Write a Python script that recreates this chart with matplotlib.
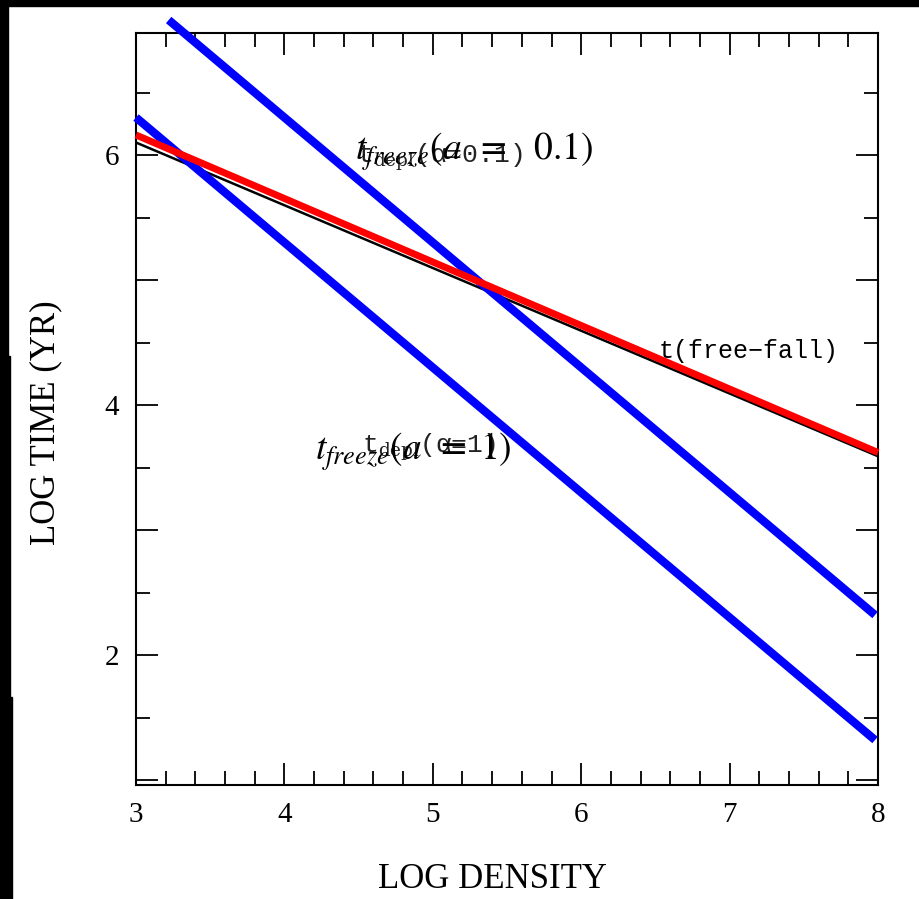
import matplotlib
matplotlib.use("Agg")
import matplotlib.pyplot as plt
from matplotlib.patches import Rectangle
from matplotlib.ticker import MultipleLocator, FixedLocator, FuncFormatter

# ---- data (log density, log time) ----
freefall_x = [3.0, 8.0]
freefall_y = [6.16, 3.62]          # red overlay line
scan_x = [3.0, 8.0]
scan_y = [6.10, 3.59]              # original scanned free-fall curve
freeze01_x = [3.22, 7.98]
freeze01_y = [7.08, 2.32]          # t_freeze(a=0.1)
freeze1_x = [3.0, 7.98]
freeze1_y = [6.30, 1.32]           # t_freeze(a=1)

x_ticks = [3, 4, 5, 6, 7, 8]
y_labels = [2, 4, 6]

W, H = 919, 899
fig = plt.figure(figsize=(W / 100, H / 100), dpi=100, facecolor="white")

xl, xr = 136, 878
yb, yt = 785, 32.5
ax = fig.add_axes([xl / W, 1 - yb / H, (xr - xl) / W, (yb - yt) / H])
ax.set_xlim(3.0, 8.0)
ax.set_ylim(0.96, 6.98)

mono = ["Liberation Mono", "DejaVu Sans Mono"]
serif = ["Liberation Serif", "DejaVu Serif"]

ax.plot(scan_x, scan_y, color="black", lw=1.8, zorder=2)
ax.plot(freeze01_x, freeze01_y, color="#0000ff", lw=6, zorder=3, clip_on=False,
        solid_capstyle="butt")
ax.plot(freeze1_x, freeze1_y, color="#0000ff", lw=6, zorder=3, clip_on=False,
        solid_capstyle="butt")
ax.plot(freefall_x, freefall_y, color="#ff0000", lw=5, zorder=4, clip_on=False,
        solid_capstyle="butt")

# scanned labels
ax.text(4.49, 5.94, r"t$_{\mathrm{depl}}$(α=0.1)", family=mono, fontsize=19,
        math_fontfamily="dejavuserif", color="#222222", zorder=5)
ax.text(4.52, 3.62, r"t$_{\mathrm{depl}}$(α=1)", family=mono, fontsize=19,
        math_fontfamily="dejavuserif", color="#222222", zorder=5)
ax.text(6.52, 4.38, "t(free\u2212fall)", family=mono, fontsize=18,
        color="black", zorder=5)

# overlay labels
ax.text(4.476, 5.96, r"$t_{freeze}(a\ \,=\ \ \,0.1)$", fontsize=27,
        math_fontfamily="stix", color="black", zorder=6)
ax.text(4.206, 3.56, r"$t_{freeze}(a\ \,=\ 1)$", fontsize=27,
        math_fontfamily="stix", color="black", zorder=6)

# axes styling
for s in ax.spines.values():
    s.set_linewidth(1.5)
ax.xaxis.set_major_locator(FixedLocator(x_ticks))
ax.xaxis.set_minor_locator(MultipleLocator(0.2))
ax.yaxis.set_major_locator(MultipleLocator(1))
ax.yaxis.set_minor_locator(MultipleLocator(0.5))
ax.yaxis.set_major_formatter(FuncFormatter(lambda v, p: f"{int(round(v))}" if int(round(v)) in y_labels else ""))
ax.tick_params(which="both", direction="in", top=True, right=True, width=1.3)
ax.tick_params(which="major", length=16, pad=12)
ax.tick_params(which="minor", length=10)
for lab in ax.get_xticklabels() + ax.get_yticklabels():
    lab.set_family(serif)
    lab.set_fontsize(21)

fig.text(492 / W, 1 - 880 / H, "LOG DENSITY", family=serif, fontsize=25,
         ha="center", va="center")
fig.text(46 / W, 1 - 423 / H, "LOG TIME (YR)", family=serif, fontsize=25,
         ha="center", va="center", rotation=90)

# black scan borders
fig.patches.append(Rectangle((0, 1 - 6 / H), 1, 6 / H, transform=fig.transFigure,
                             color="black", zorder=10))
fig.patches.append(Rectangle((0, 1 - 356 / H), 8 / W, 356 / H, transform=fig.transFigure,
                             color="black", zorder=10))
fig.patches.append(Rectangle((0, 1 - 697 / H), 10 / W, (697 - 356) / H, transform=fig.transFigure,
                             color="black", zorder=10))
fig.patches.append(Rectangle((0, 0), 12 / W, (H - 697) / H, transform=fig.transFigure,
                             color="black", zorder=10))

fig.savefig("out.png", dpi=100, facecolor="white")
